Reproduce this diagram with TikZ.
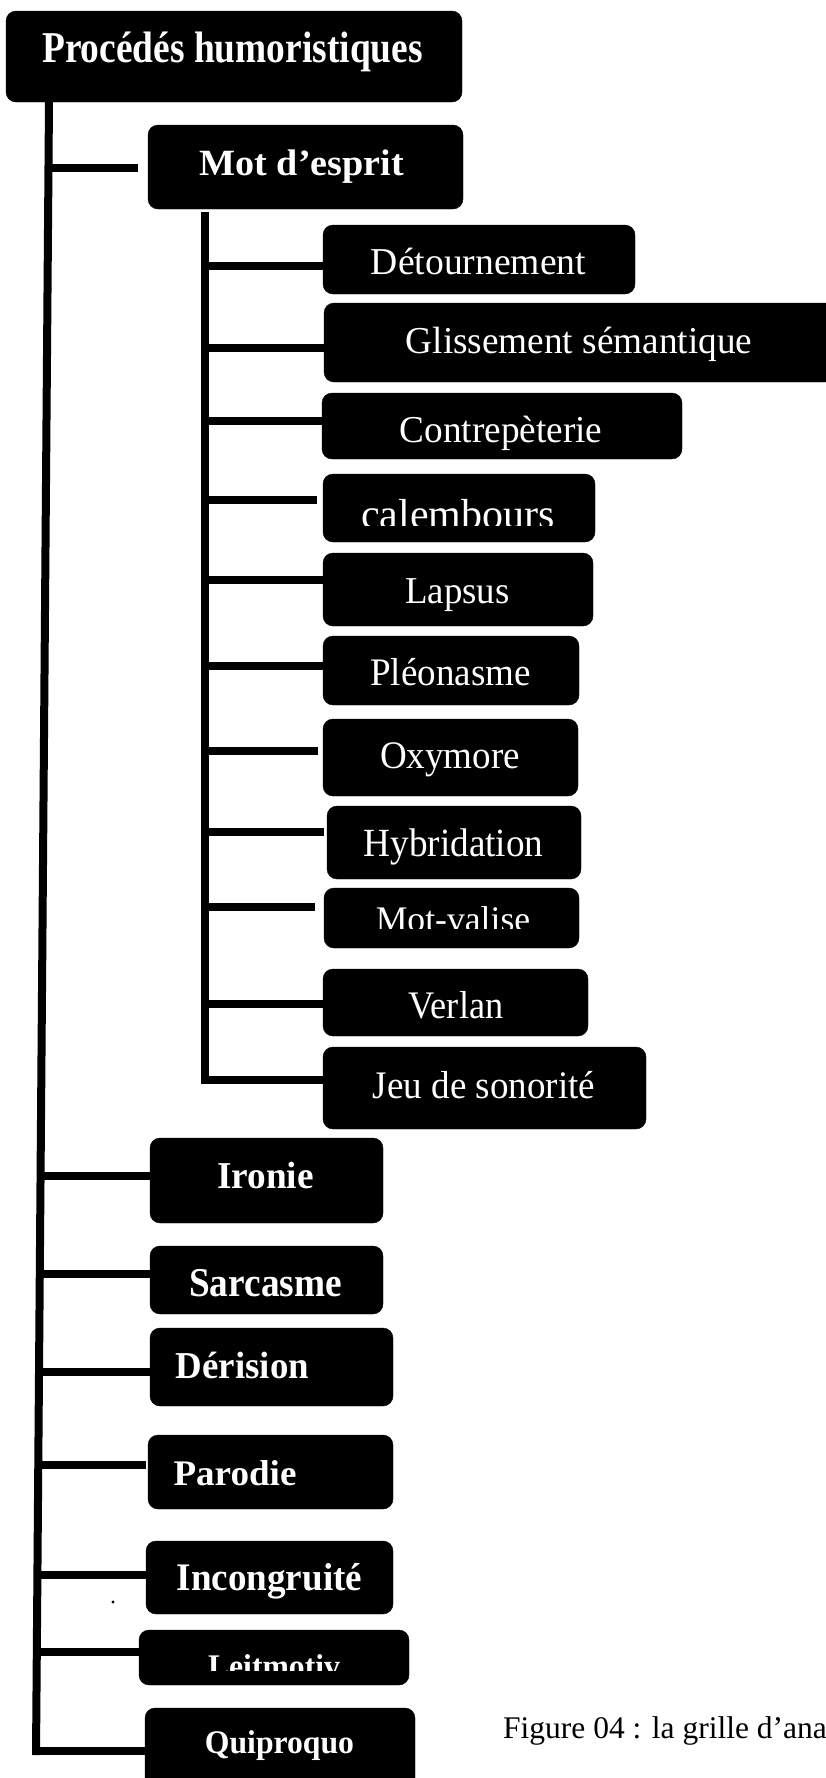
\documentclass[tikz,border=0pt]{standalone}
\usepackage{fontspec}
\setmainfont{Liberation Serif}
\usepackage{graphicx}
\begin{document}
\begin{tikzpicture}[x=1pt,y=-1pt,
  box/.style={fill=black, draw=black, rounded corners=10pt, inner sep=0pt},
  lbl/.style={text=white, anchor=base, inner sep=0pt},
  trunk/.style={line width=8pt},
  conn/.style={line width=8pt}]
\useasboundingbox (0,0) rectangle (825,1778);

% ---- boxes ----
\node[box, minimum width=456pt, minimum height=91pt] (root) at (234,56.5) {};
\node[box, minimum width=315pt, minimum height=84pt] (mot) at (305.5,167) {};
\node[box, minimum width=312pt, minimum height=69pt] (det) at (479,259.5) {};
\node[box, minimum width=511pt, minimum height=79pt] (gli) at (579.5,342.5) {};
\node[box, minimum width=360pt, minimum height=66pt] (con) at (502,426) {};
\node[box, minimum width=272pt, minimum height=68pt] (cal) at (459,508) {};
\node[box, minimum width=270pt, minimum height=73pt] (lap) at (458,589.5) {};
\node[box, minimum width=256pt, minimum height=69pt] (ple) at (451,670.5) {};
\node[box, minimum width=255pt, minimum height=77pt] (oxy) at (450.5,757.5) {};
\node[box, minimum width=254pt, minimum height=73pt] (hyb) at (454,842.5) {};
\node[box, minimum width=255pt, minimum height=60pt] (mv) at (451.5,918) {};
\node[box, minimum width=265pt, minimum height=67pt] (ver) at (455.5,1002.5) {};
\node[box, minimum width=323pt, minimum height=82pt] (jeu) at (484.5,1088) {};
\node[box, minimum width=233pt, minimum height=85pt] (iro) at (266.5,1180.5) {};
\node[box, minimum width=233pt, minimum height=68pt] (sar) at (266.5,1280) {};
\node[box, minimum width=243pt, minimum height=78pt] (der) at (271.5,1367) {};
\node[box, minimum width=245pt, minimum height=74pt] (par) at (270.5,1472) {};
\node[box, minimum width=247pt, minimum height=73pt] (inc) at (269.5,1577.5) {};
\node[box, minimum width=270pt, minimum height=55pt] (lei) at (274,1657.5) {};
\node[box, minimum width=270pt, minimum height=82pt] (qui) at (280,1749) {};

% ---- labels ----
\node[lbl, font=\bfseries\fontsize{44}{44}\selectfont] (root-t) at (232.5,62) {\scalebox{0.85}[1]{Procédés humoristiques}};
\node[lbl, font=\bfseries\fontsize{37}{37}\selectfont] (mot-t) at (301.7,175) {\scalebox{1.03}[1]{Mot d’esprit}};
\node[lbl, font=\fontsize{38}{38}\selectfont] (det-t) at (478.5,274) {\scalebox{0.99}[1]{Détournement}};
\node[lbl, font=\fontsize{38}{38}\selectfont] (gli-t) at (579,353) {\scalebox{0.98}[1]{Glissement sémantique}};
\node[lbl, font=\fontsize{38}{38}\selectfont] (con-t) at (501,442) {\scalebox{0.98}[1]{Contrepèterie}};
\begin{scope}
\clip (0,0) rectangle (825,525);
\node[lbl, font=\fontsize{42}{42}\selectfont] (cal-t) at (458,528) {calembours};
\end{scope}
\node[lbl, font=\fontsize{38}{38}\selectfont] (lap-t) at (457.5,603) {\scalebox{0.97}[1]{Lapsus}};
\node[lbl, font=\fontsize{39}{39}\selectfont] (ple-t) at (450.5,685) {\scalebox{0.95}[1]{Pléonasme}};
\node[lbl, font=\fontsize{39}{39}\selectfont] (oxy-t) at (450,768) {\scalebox{0.95}[1]{Oxymore}};
\node[lbl, font=\fontsize{40}{40}\selectfont] (hyb-t) at (453.5,856) {\scalebox{0.93}[1]{Hybridation}};
\begin{scope}
\clip (0,0) rectangle (825,928);
\node[lbl, font=\fontsize{36}{36}\selectfont] (mv-t) at (453,931) {\scalebox{0.99}[1]{Mot-valise}};
\end{scope}
\node[lbl, font=\fontsize{39}{39}\selectfont] (ver-t) at (456,1018) {\scalebox{0.93}[1]{Verlan}};
\node[lbl, font=\fontsize{39}{39}\selectfont] (jeu-t) at (484,1098) {\scalebox{0.95}[1]{Jeu de sonorité}};
\node[lbl, font=\bfseries\fontsize{38}{38}\selectfont] (iro-t) at (265.5,1188) {\scalebox{0.98}[1]{Ironie}};
\node[lbl, font=\bfseries\fontsize{41}{41}\selectfont] (sar-t) at (265.5,1296) {\scalebox{0.91}[1]{Sarcasme}};
\node[lbl, font=\bfseries\fontsize{38}{38}\selectfont] (der-t) at (242.5,1378) {\scalebox{0.97}[1]{Dérision}};
\node[lbl, font=\bfseries\fontsize{36}{36}\selectfont] (par-t) at (235,1485) {\scalebox{1.03}[1]{Parodie}};
\node[lbl, font=\bfseries\fontsize{39}{39}\selectfont] (inc-t) at (269.5,1590) {\scalebox{0.95}[1]{Incongruité}};
\begin{scope}
\clip (0,0) rectangle (825,1670);
\node[lbl, font=\bfseries\fontsize{33}{33}\selectfont] (lei-t) at (274,1677) {\scalebox{0.96}[1]{Leitmotiv}};
\end{scope}
\node[lbl, font=\bfseries\fontsize{33}{33}\selectfont] (qui-t) at (279.5,1753) {\scalebox{0.96}[1]{Quiproquo}};
\node[anchor=base west, inner sep=0pt, font=\fontsize{31.5}{31.5}\selectfont] (cap) at (503,1738) {Figure 04 : la grille d’ana};

% small dot
\fill (113,1602) circle (1.6pt);

% ---- trunk lines ----
\coordinate (m0) at (49,102);
\coordinate (m1) at (36,1755);
\draw[trunk] (m0) -- (m1);
\coordinate (s0) at (205,212);
\coordinate (s1) at (205,1083.5);
\draw[trunk] (s0) -- (s1);

% ---- junctions on main trunk ----
\coordinate (jmot) at (48.5,168);
\coordinate (jiro) at (40.5,1176);
\coordinate (jsar) at (39.8,1273.5);
\coordinate (jder) at (39.0,1372);
\coordinate (jpar) at (38.3,1464.5);
\coordinate (jinc) at (37.4,1574.5);
\coordinate (jlei) at (36.8,1652);
\coordinate (jqui) at (36.0,1751);

% ---- junctions on sub trunk ----
\coordinate (jdet) at (205,266);
\coordinate (jgli) at (205,348);
\coordinate (jcon) at (205,421);
\coordinate (jcal) at (205,500);
\coordinate (jlap) at (205,580);
\coordinate (jple) at (205,665.5);
\coordinate (joxy) at (205,751);
\coordinate (jhyb) at (205,831.5);
\coordinate (jmv) at (205,907);
\coordinate (jver) at (205,1004);
\coordinate (jjeu) at (205,1079.5);

% ---- connectors ----
\draw[conn, shorten >=10pt] (jmot) -- (jmot -| mot.west);
\draw[conn] (jiro) -- (jiro -| iro.west);
\draw[conn] (jsar) -- (jsar -| sar.west);
\draw[conn] (jder) -- (jder -| der.west);
\draw[conn, shorten >=2pt] (jpar) -- (jpar -| par.west);
\draw[conn] (jinc) -- (jinc -| inc.west);
\draw[conn] (jlei) -- (jlei -| lei.west);
\draw[conn] (jqui) -- (jqui -| qui.west);

\draw[conn] (jdet) -- (jdet -| det.west);
\draw[conn] (jgli) -- (jgli -| gli.west);
\draw[conn] (jcon) -- (jcon -| con.west);
\draw[conn, shorten >=6pt] (jcal) -- (jcal -| cal.west);
\draw[conn] (jlap) -- (jlap -| lap.west);
\draw[conn] (jple) -- (jple -| ple.west);
\draw[conn, shorten >=5pt] (joxy) -- (joxy -| oxy.west);
\draw[conn, shorten >=3pt] (jhyb) -- (jhyb -| hyb.west);
\draw[conn, shorten >=9pt] (jmv) -- (jmv -| mv.west);
\draw[conn] (jver) -- (jver -| ver.west);
\draw[conn] (jjeu) -- (jjeu -| jeu.west);
\end{tikzpicture}
\end{document}
